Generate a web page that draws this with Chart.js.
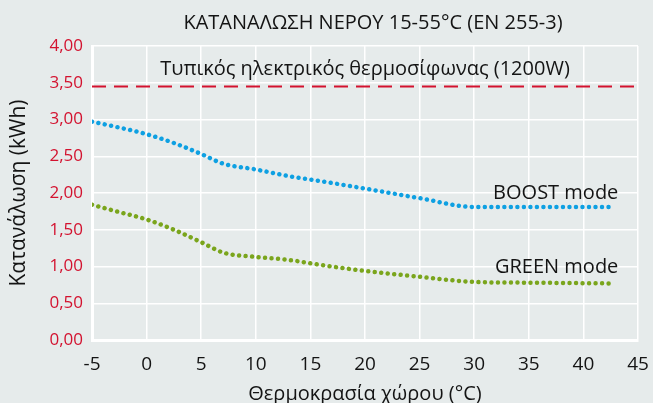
<!DOCTYPE html>
<html>
<head>
<meta charset="utf-8">
<script src="https://cdn.jsdelivr.net/npm/chart.js@4"></script>
<style>
  body { margin: 0; background: #e6ebeb; }
</style>
</head>
<body>
<canvas id="chart" width="653" height="403"></canvas>
<script>
// room temperature (°C)
const temps = [-5, -2.5, 0, 2.5, 5, 7, 10, 13, 16, 20, 25, 30, 35, 42.5];
// consumption (kWh)
const boostValues = [2.97, 2.89, 2.80, 2.68, 2.53, 2.40, 2.32, 2.23, 2.16, 2.06, 1.93, 1.81, 1.81, 1.81];
const greenValues = [1.84, 1.74, 1.64, 1.50, 1.33, 1.19, 1.13, 1.09, 1.02, 0.94, 0.86, 0.79, 0.78, 0.77];
// typical electric water heater line
const refRange = [-5, 45];
const refValue = 3.45;

const xTicks = [-5, 0, 5, 10, 15, 20, 25, 30, 35, 40, 45];
const yTicks = [0, 0.5, 1, 1.5, 2, 2.5, 3, 3.5, 4];

const RED = "#d3122f";
const BLUE = "#0ea0e2";
const GREEN = "#7aa51c";
const INK = "#141414";
const FONT = "'Open Sans', sans-serif";

const chartTitle = "ΚΑΤΑΝΑΛΩΣΗ ΝΕΡΟΥ 15-55°C (EN 255-3)";

// text labels placed through the scales
const textLabels = [
  { text: "Τυπικός ηλεκτρικός θερμοσίφωνας (1200W)", x: 20, y: 3.68, align: "center" },
  { text: "BOOST mode", x: 43.2, y: 1.99, align: "right" },
  { text: "GREEN mode", x: 43.2, y: 0.99, align: "right" },
];

const labelPlugin = {
  id: "labels",
  afterDatasetsDraw(chart) {
    const { ctx, scales } = chart;
    ctx.save();
    ctx.fillStyle = INK;
    ctx.font = "20px " + FONT;
    ctx.textBaseline = "middle";
    textLabels.forEach((l) => {
      ctx.textAlign = l.align;
      ctx.fillText(l.text, scales.x.getPixelForValue(l.x), scales.y.getPixelForValue(l.y));
    });
    // chart title, a bit right of centre like the original
    ctx.textAlign = "center";
    ctx.fillText(chartTitle, 373, 23);
    ctx.restore();
  },
};

const toPoints = (ys) => temps.map((t, i) => ({ x: t, y: ys[i] }));

const dotted = (color) => ({
  borderColor: color,
  backgroundColor: color,
  borderWidth: 4.5,
  borderDash: [0.01, 6.5],
  borderCapStyle: "round",
  pointRadius: 0,
  cubicInterpolationMode: "monotone",
  fill: false,
});

new Chart(document.getElementById("chart"), {
  type: "line",
  data: {
    datasets: [
      {
        label: "ref",
        data: refRange.map((x) => ({ x: x, y: refValue })),
        borderColor: RED,
        borderWidth: 2,
        borderDash: [14, 8],
        pointRadius: 0,
      },
      { label: "BOOST mode", data: toPoints(boostValues), ...dotted(BLUE) },
      { label: "GREEN mode", data: toPoints(greenValues), ...dotted(GREEN) },
    ],
  },
  options: {
    responsive: false,
    animation: false,
    layout: { padding: { left: 0, right: 15, top: 46, bottom: 0 } },
    plugins: {
      legend: { display: false },
      tooltip: { enabled: false },
    },
    scales: {
      x: {
        type: "linear",
        min: -5,
        max: 45,
        afterBuildTicks: (s) => { s.ticks = xTicks.map((v) => ({ value: v })); },
        afterFit: (s) => {
          s.height = 63;
          s.paddingLeft = 0;
          s.paddingRight = 0;
        },
        ticks: { color: INK, font: { family: FONT, size: 19 }, padding: 13 },
        grid: { color: "#ffffff", lineWidth: 1.5, drawTicks: false },
        border: { color: "#ffffff", width: 3 },
        title: {
          display: true,
          text: "Θερμοκρασία χώρου (°C)",
          color: INK,
          font: { family: FONT, size: 20 },
          padding: { top: 0, bottom: -3 },
        },
      },
      y: {
        min: 0,
        max: 4,
        afterBuildTicks: (s) => { s.ticks = yTicks.map((v) => ({ value: v })); },
        afterFit: (s) => { s.width = 92; },
        ticks: {
          color: RED,
          font: { family: FONT, size: 17 },
          padding: 9,
          callback: (v) => v.toFixed(2).replace(".", ","),
        },
        grid: { color: "#ffffff", lineWidth: 1.5, drawTicks: false },
        border: { color: "#ffffff", width: 3 },
        title: {
          display: true,
          text: "Κατανάλωση (kWh)",
          color: INK,
          font: { family: FONT, size: 21 },
          padding: { top: 6, bottom: 6 },
        },
      },
    },
  },
  plugins: [labelPlugin],
});
</script>
</body>
</html>
